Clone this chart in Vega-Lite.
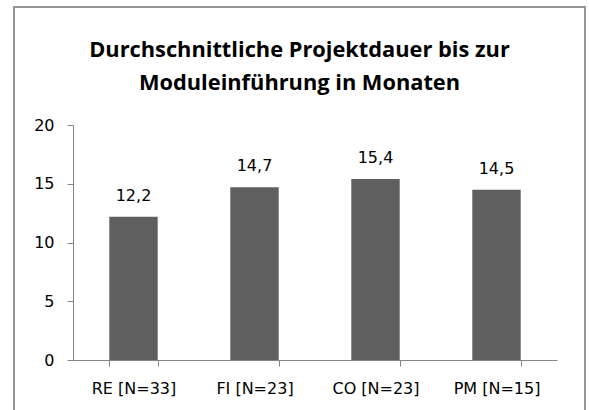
{
  "$schema": "https://vega.github.io/schema/vega-lite/v6.json",
  "width": 571,
  "height": 410,
  "autosize": {"type": "none"},
  "padding": {"left": 14, "top": 7, "right": 4, "bottom": 0},
  "background": "white",
  "view": {"stroke": "#969696", "strokeWidth": 2, "fill": "white"},
  "config": {
    "locale": {"number": {"decimal": ",", "thousands": ".", "grouping": [3], "currency": ["", " €"]}},
    "view": {"stroke": "#969696", "strokeWidth": 2},
    "font": "DejaVu Sans"
  },
  "title": {
    "text": ["Durchschnittliche Projektdauer bis zur", "Moduleinführung in Monaten"],
    "anchor": "middle",
    "frame": "group",
    "baseline": "top",
    "offset": -36,
    "dy": 52,
    "fontSize": 21.8,
    "fontWeight": "bold",
    "font": "Open Sans",
    "color": "#000000",
    "lineHeight": 33
  },
  "data": {
    "values": [
      {"Kategorie": "RE [N=33]", "Dauer": 12.2},
      {"Kategorie": "FI [N=23]", "Dauer": 14.7},
      {"Kategorie": "CO [N=23]", "Dauer": 15.4},
      {"Kategorie": "PM [N=15]", "Dauer": 14.5}
    ]
  },
  "encoding": {
    "x": {
      "field": "Kategorie",
      "type": "nominal",
      "sort": null,
      "scale": {"range": [59, 543], "paddingInner": 0.6, "paddingOuter": 0.3},
      "axis": {
        "title": null,
        "labelAngle": 0,
        "offset": -57,
        "domainColor": "#868686",
        "tickColor": "#868686",
        "tickSize": 6,
        "tickBand": "extent",
        "labelFontSize": 16,
        "labelFont": "DejaVu Sans",
        "labelColor": "#000000",
        "labelPadding": 14
      }
    },
    "y": {
      "field": "Dauer",
      "type": "quantitative",
      "scale": {"domain": [0, 20], "range": [353, 118], "nice": false, "zero": true},
      "axis": {
        "title": null,
        "values": [0, 5, 10, 15, 20],
        "grid": false,
        "offset": -59,
        "domainColor": "#868686",
        "tickColor": "#868686",
        "tickSize": 6,
        "labelFontSize": 16,
        "labelFont": "DejaVu Sans",
        "labelColor": "#000000",
        "labelPadding": 13
      }
    }
  },
  "layer": [
    {"mark": {"type": "bar", "color": "#5f5f5f"}},
    {
      "mark": {"type": "text", "baseline": "alphabetic", "dy": -16, "fontSize": 16, "font": "DejaVu Sans", "color": "#000000"},
      "encoding": {"text": {"field": "Dauer", "type": "quantitative", "format": ".1f"}}
    }
  ]
}
